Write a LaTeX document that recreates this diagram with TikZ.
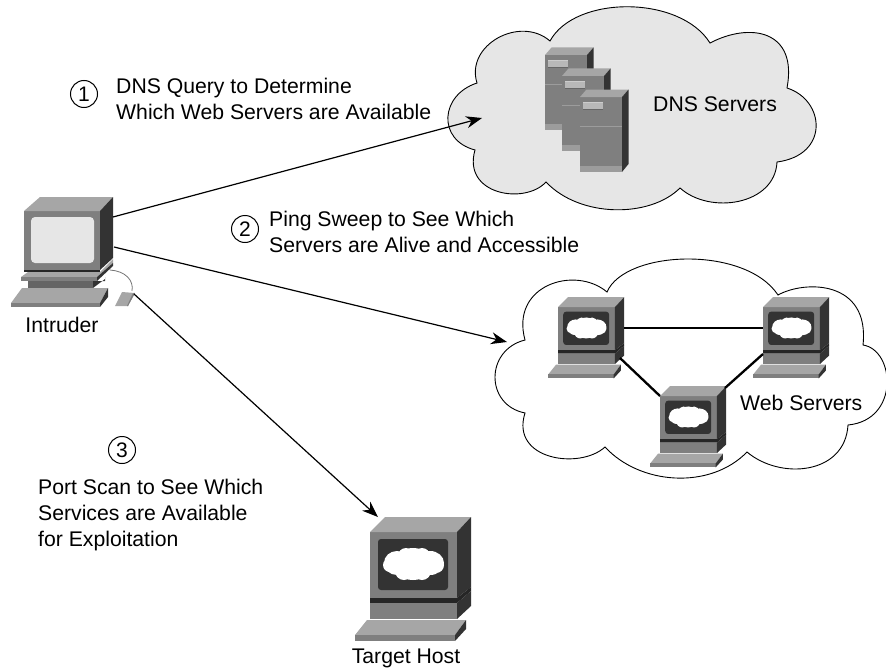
\documentclass[tikz,border=0pt]{standalone}
\usepackage{fontspec}
\setmainfont{Liberation Sans}
\usetikzlibrary{arrows.meta}
\definecolor{cfront}{HTML}{7F7F7F}
\definecolor{ctop}{HTML}{A6A6A6}
\definecolor{cdark}{HTML}{333333}
\definecolor{clight}{HTML}{E6E6E6}
\definecolor{cband}{HTML}{9C9C9C}
\definecolor{cbox}{HTML}{B8B8B8}
\tikzset{
  x=1pt,y=-1pt,
  lbl/.style={font=\fontsize{21.2}{26}\selectfont,align=left,inner sep=0pt,text=black},
  clbl/.style={lbl,align=center},
  numcirc/.style={circle,draw=black,line width=1pt,minimum size=27pt,inner sep=0pt,font=\fontsize{21}{22}\selectfont},
  cloudline/.style={draw=black,line width=.9pt},
  arrowline/.style={draw=black,line width=1.2pt,-{Stealth[length=16pt,width=12pt]}},
  linkline/.style={draw=black,line width=2.3pt},
  host/.pic={
    \fill[cfront] (0,0) rectangle (87,66);
    \fill[ctop] (0,0) -- (15,-15) -- (101,-15) -- (87,0) -- cycle;
    \fill[cdark] (87,0) -- (101,-15) -- (101,55) -- (87,66) -- cycle;
    \fill[cdark,rounded corners=3pt] (8,7) rectangle (78,58);
    \fill[white] (43,32) ellipse (20 and 16) (27,31) ellipse (13 and 12) (60,31) ellipse (14 and 12)
      (20,33) circle (7) (66,33) circle (8) (34,39) circle (9) (52,39) circle (9) (36,24) circle (8) (52,24) circle (8);
    \fill[black!85] (0,66) -- (87,66) -- (101,55) -- (101,59) -- (87,71) -- (0,71) -- cycle;
    \fill[cfront] (0,71) rectangle (87,87);
    \fill[cdark] (87,71) -- (101,59) -- (101,74) -- (87,87) -- cycle;
    \fill[ctop] (-3,88) -- (96,88) -- (85,103) -- (-15,103) -- cycle;
    \fill[cfront] (-15,103) rectangle (85,109);
    \fill[cdark] (85,103) -- (96,88) -- (96,97) -- (85,109) -- cycle;
  },
  towerbox/.pic={
    \fill[cfront] (0,0) rectangle (42,75);
    \fill[ctop] (0,0) -- (6.5,-7.5) -- (48.5,-7.5) -- (42,0) -- cycle;
    \fill[cdark] (42,0) -- (48.5,-7.5) -- (48.5,67) -- (42,75) -- cycle;
    \fill[cband] (0,69) rectangle (42,75);
    \fill[cband] (0,29) rectangle (42,30);
    \fill[cbox] (3,5) rectangle (23,13);
    \fill[white!80!black] (3,5) rectangle (23,6);
    \fill[black!60] (3,12.4) rectangle (23,13);
  },
  pcbox/.pic={
    \fill[cfront] (24,211) rectangle (100,270);
    \fill[ctop] (24,211) -- (40,197) -- (113,197) -- (100,211) -- cycle;
    \fill[cdark] (100,211) -- (113,197) -- (113,258) -- (100,270) -- cycle;
    \fill[clight,rounded corners=4pt] (31,217) rectangle (94,263);
    \fill[black!85] (24,270) rectangle (100,272);
    \fill[ctop] (21,277) -- (28,272) -- (100,272) -- (113,259) -- (113,263) -- (97,277) -- cycle;
    \fill[cfront] (21,277) rectangle (97,281);
    \fill[cdark] (97,277) -- (113,263) -- (113,266) -- (97,281) -- cycle;
    \fill[cfront!80!black] (28,281) rectangle (93,288);
    \fill[cdark] (93,281) -- (105,281) -- (105,277) -- (105,279) -- (93,288) -- cycle;
    \fill[ctop] (22,288) -- (108,288) -- (100,303) -- (11,303) -- cycle;
    \fill[cfront] (11,303) rectangle (100,307);
    \fill[cdark] (100,303) -- (108,288) -- (108,297) -- (100,307) -- cycle;
    \draw[black!55,line width=.8pt] (110,270) .. controls (125,271) and (134,280) .. (132,291);
    \fill[ctop] (122,292) -- (135,293) -- (128,306) -- (115,306) -- cycle;
    \fill[cfront] (135,293) -- (128,306) -- (127,306) -- (133,293) -- cycle;
  },
}
\begin{document}
\begin{tikzpicture}
\useasboundingbox (0,0) rectangle (886,669);
% DNS cloud
\path[cloudline,fill=clight] (550,41)
  .. controls (575,-5) and (680,-5) .. (710,43)
  .. controls (750,22) and (798,30) .. (787,88)
  .. controls (825,100) and (830,155) .. (777,162)
  .. controls (775,205) and (710,215) .. (680,188)
  .. controls (650,218) and (580,218) .. (546,182)
  .. controls (525,205) and (462,195) .. (475,150)
  .. controls (437,140) and (440,95) .. (477,83)
  .. controls (465,45) and (520,15) .. (550,41) -- cycle;
% web cloud
\path[cloudline,fill=white] (607,292)
  .. controls (625,250) and (745,245) .. (778,295)
  .. controls (805,280) and (870,280) .. (863,345)
  .. controls (895,350) and (900,420) .. (848,425)
  .. controls (845,475) and (780,480) .. (747,452)
  .. controls (710,490) and (640,485) .. (605,447)
  .. controls (580,470) and (510,460) .. (525,413)
  .. controls (485,405) and (485,350) .. (525,340)
  .. controls (510,285) and (575,265) .. (607,292) -- cycle;
% towers
\pic at (545,55) {towerbox};
\pic at (562,76) {towerbox};
\pic at (580,97) {towerbox};
% hosts
\pic at (0,0) {pcbox};
\pic[scale=.655] at (558,307) {host};
\pic[scale=.655] at (763,307) {host};
\pic[scale=.655] at (660,396) {host};
\pic at (370,532) {host};
% anchor coordinates
\coordinate (pcA) at (113,217);
\coordinate (pcB) at (114,247);
\coordinate (pcC) at (134,294);
\coordinate (dnsT) at (482,118);
\coordinate (webT) at (507,342);
\coordinate (targetT) at (378,517);
\coordinate (w1E) at (624,328);
\coordinate (w2W) at (763,328);
\coordinate (w1S) at (620,358);
\coordinate (w3W) at (660,396);
\coordinate (w3N) at (725,388);
\coordinate (w2S) at (763,354);
\draw[arrowline] (pcA) -- (dnsT);
\draw[arrowline] (pcB) -- (webT);
\draw[arrowline] (pcC) -- (targetT);
\draw[linkline] (w1E) -- (w2W);
\draw[linkline] (w1S) -- (w3W);
\draw[linkline] (w3N) -- (w2S);
% labels
\node[numcirc] (n1) at (84,94) {1};
\node[numcirc] (n2) at (245,229) {2};
\node[numcirc] (n3) at (122,450) {3};
\node[lbl,anchor=west] (t1) at (116,99) {DNS Query to Determine\\Which Web Servers are Available};
\node[lbl,anchor=west] (t2) at (269,232) {Ping Sweep to See Which\\Servers are Alive and Accessible};
\node[lbl,anchor=west] (t3) at (38,515) {Port Scan to See Which\\Services are Available\\for Exploitation};
\node[clbl] (intr) at (62,325) {Intruder};
\node[lbl,anchor=west] (dnsl) at (653,104) {DNS Servers};
\node[lbl,anchor=west] (webl) at (740,403) {Web Servers};
\node[clbl] (targ) at (406,658) {Target Host};
\end{tikzpicture}
\end{document}
